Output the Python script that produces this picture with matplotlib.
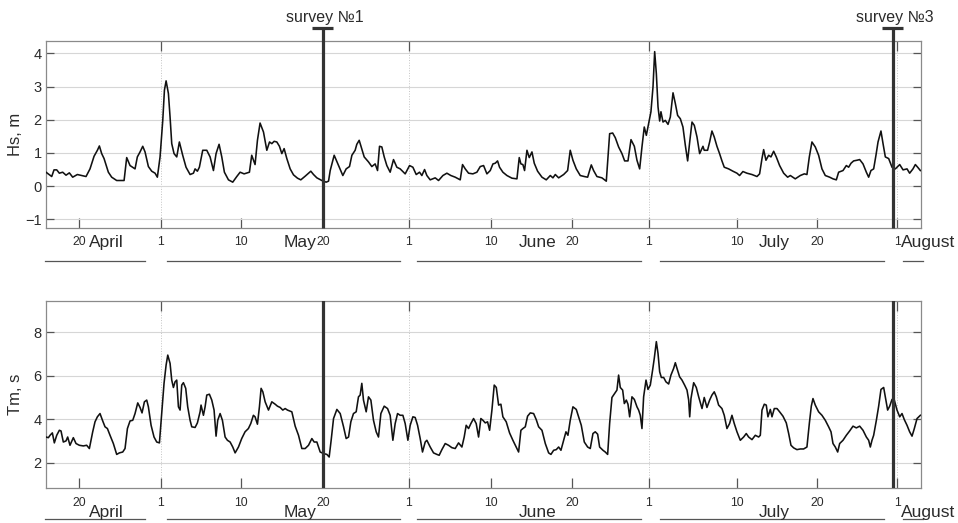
import matplotlib
matplotlib.use("Agg")
import matplotlib.pyplot as plt
import matplotlib.transforms as mtransforms

plt.rcParams['font.family'] = ['Liberation Sans', 'DejaVu Sans']

# ---------------- data (x = day counted from 1 April) -------------
hs_day_a = [15.80,16.52,16.81,17.15,17.48,17.90,18.32,18.74,19.16,19.75,20.29,20.84,21.34,21.85,22.27,22.52,22.81,23.11,23.32,23.65,24.07,24.70,25.63,25.96,26.38,27.01,27.30,27.64,27.98,28.27,28.69,29.11,29.53,29.82,30.16,30.50,30.71,30.92,31.21,31.42,31.63,31.92,32.26,32.59,33.01,33.43,33.94,34.36,34.57,34.86,35.11,35.53,36.04,36.46,36.88,37.21,37.59,37.93,38.26,38.77,39.31,39.82,40.24,40.74,41.41,41.70,42.12,42.42,42.75]
hs_val_a = [0.42,0.29,0.49,0.49,0.39,0.42,0.33,0.40,0.27,0.35,0.32,0.29,0.52,0.90,1.08,1.21,0.98,0.83,0.67,0.42,0.27,0.17,0.17,0.86,0.62,0.52,0.88,1.03,1.20,1.03,0.59,0.45,0.39,0.27,0.88,1.98,2.89,3.17,2.79,2.08,1.28,0.98,0.88,1.33,0.93,0.57,0.35,0.39,0.52,0.45,0.57,1.08,1.08,0.88,0.47,0.98,1.26,0.88,0.42,0.19,0.12,0.29,0.42,0.37,0.42,0.93,0.65,1.38,1.90]
hs_day_b = [43.18,43.60,43.94,44.23,44.52,44.86,45.19,45.49,45.78,46.12,46.54,46.96,47.46,47.88,48.43,48.85,49.14,49.48,49.90,50.53,51.07,51.37,51.58,52.08,52.63,53.17,53.59,54.01,54.31,54.72,54.93,55.23,55.48,55.86,56.40,56.82,57.24,57.54,57.79,58.08,58.38,58.71,59.13,59.55,59.97,60.39,61.02,61.57,61.99,62.41,62.83,63.12,63.46,63.75,64.17,64.80,65.22,65.77,66.27,66.77,67.32,67.95,68.24,68.58,69.00,69.54,70.05,70.47]
hs_val_b = [1.63,1.08,1.33,1.28,1.35,1.33,1.20,0.98,1.13,0.83,0.52,0.34,0.24,0.19,0.30,0.39,0.45,0.35,0.25,0.17,0.12,0.15,0.47,0.93,0.62,0.32,0.52,0.59,0.93,1.08,1.26,1.38,1.18,0.88,0.73,0.59,0.67,0.47,1.20,1.18,0.88,0.62,0.42,0.80,0.57,0.52,0.37,0.62,0.57,0.35,0.42,0.32,0.50,0.32,0.19,0.25,0.17,0.32,0.39,0.32,0.27,0.19,0.65,0.52,0.39,0.37,0.42,0.59]
hs_day_c = [70.89,71.31,71.73,72.07,72.36,72.65,72.90,73.32,73.83,74.46,75.09,75.38,75.59,75.84,76.05,76.35,76.64,76.98,77.27,77.69,78.24,78.78,79.29,79.62,79.92,80.34,80.97,81.47,81.80,82.14,82.56,83.06,83.57,83.99,84.45,84.74,85.16,85.79,86.34,86.76,87.14,87.47,87.89,88.31,88.65,89.07,89.45,89.87,90.20,90.54,90.83,91.12,91.38,91.67,91.96,92.22,92.43,92.64,92.85,93.06,93.22,93.48,93.77,94.11,94.40,94.74,95.03,95.32,95.66,95.99,96.29,96.58,96.84,97.13,97.42,97.76,98.09]
hs_val_c = [0.62,0.37,0.47,0.67,0.69,0.76,0.57,0.42,0.32,0.24,0.22,0.86,0.67,0.65,0.47,1.08,0.86,1.03,0.69,0.45,0.27,0.19,0.32,0.25,0.35,0.25,0.35,0.47,1.08,0.78,0.52,0.32,0.29,0.27,0.64,0.47,0.29,0.25,0.15,1.58,1.60,1.46,1.18,0.98,0.76,0.76,1.40,1.20,0.78,0.52,1.18,1.78,1.53,1.88,2.24,2.99,4.05,3.39,2.39,1.96,2.24,1.93,1.98,1.86,2.08,2.81,2.49,2.13,2.03,1.78,1.23,0.76,1.33,1.93,1.83,1.48,0.98]
hs_day_d = [98.51,98.67,99.09,99.35,99.64,99.93,100.27,100.60,100.90,101.19,101.74,102.28,102.79,103.12,103.54,104.05,104.68,105.31,105.64,105.94,106.15,106.44,106.78,107.07,107.41,107.74,108.16,108.67,109.17,109.51,110.13,110.76,111.27,111.60,111.90,112.23,112.65,113.07,113.49,113.91,114.46,114.88,115.30,115.59,116.14,116.56,116.85,117.15,117.48,117.90,118.24,118.66,119.08,119.37,119.66,120.00,120.29,120.55,120.92,121.18,121.47,121.89,122.31,122.73,123.28,123.70,124.20,124.53,124.95,125.25,125.54,125.88]
hs_val_d = [1.20,1.08,1.08,1.33,1.66,1.48,1.20,0.98,0.76,0.57,0.52,0.45,0.39,0.32,0.44,0.39,0.35,0.29,0.37,0.83,1.10,0.78,0.93,0.88,1.05,0.88,0.62,0.39,0.27,0.32,0.22,0.32,0.37,0.35,0.88,1.33,1.18,0.93,0.52,0.32,0.27,0.22,0.19,0.42,0.47,0.62,0.57,0.69,0.76,0.78,0.80,0.67,0.42,0.27,0.47,0.52,0.93,1.33,1.66,1.28,0.88,0.83,0.57,0.52,0.65,0.49,0.52,0.39,0.52,0.65,0.57,0.47]

tm_day_a = [15.80,16.10,16.31,16.60,16.85,17.15,17.48,17.69,17.98,18.32,18.53,18.82,19.24,19.58,20.00,20.50,20.92,21.26,21.68,21.97,22.27,22.60,22.94,23.23,23.53,23.86,24.28,24.70,25.04,25.46,25.75,26.05,26.38,26.72,27.01,27.35,27.64,27.89,28.19,28.48,28.69,29.03,29.40,29.74,30.08,30.37,30.66,30.92,31.13,31.42,31.63,31.84,32.05,32.26,32.47,32.68,32.89,33.10,33.39,33.64,33.94,34.15,34.57,34.86,35.20,35.32,35.62,35.83,36.04,36.37,36.67,36.96,37.21,37.42,37.72,38.01,38.35,38.64,38.98,39.31,39.61,40.03,40.44,40.86,41.28,41.58,41.91,42.12,42.42]
tm_val_a = [3.18,3.15,3.26,3.37,2.91,3.26,3.49,3.46,2.95,3.00,3.18,2.80,3.15,2.88,2.80,2.77,2.80,2.65,3.42,3.88,4.11,4.26,3.92,3.65,3.57,3.26,2.88,2.38,2.45,2.49,2.65,3.57,3.92,3.95,4.26,4.75,4.54,4.29,4.80,4.88,4.57,3.72,3.18,2.95,2.91,4.26,5.65,6.49,6.95,6.57,5.80,5.46,5.72,5.80,4.57,4.42,5.57,5.68,5.42,4.57,3.95,3.65,3.62,3.83,4.34,4.65,4.18,4.57,5.11,5.15,4.88,4.42,3.22,3.95,4.26,3.95,3.18,3.03,2.95,2.72,2.45,2.72,3.11,3.42,3.57,3.80,4.18,4.11,3.77]
tm_day_b = [42.67,42.88,43.10,43.39,43.81,44.23,44.65,44.94,45.28,45.61,45.91,46.20,46.75,47.17,47.59,48.01,48.43,48.85,49.27,49.56,49.90,50.32,50.74,51.16,51.45,51.70,52.00,52.42,52.84,53.26,53.59,53.89,54.18,54.51,54.85,55.14,55.35,55.56,55.77,56.11,56.40,56.70,57.03,57.37,57.66,57.96,58.38,58.80,59.13,59.47,59.76,60.06,60.39,60.73,61.02,61.36,61.65,61.99,62.28,62.58,62.91,63.20,63.54,63.75,64.17,64.59,65.01,65.30,65.64,66.06,66.48,66.90,67.32,67.74,68.16,68.45,68.70,69.00,69.29,69.63,69.96,70.26,70.55]
tm_val_b = [4.57,5.42,5.26,4.80,4.42,4.80,4.69,4.60,4.54,4.42,4.49,4.42,4.34,3.68,3.26,2.65,2.65,2.80,3.11,2.95,2.95,2.49,2.42,2.38,2.26,3.03,4.03,4.45,4.26,3.65,3.11,3.18,3.88,4.26,4.34,5.03,5.11,5.65,4.88,4.34,5.03,4.88,3.95,3.42,3.18,4.26,4.60,4.49,4.18,3.03,3.80,4.26,4.18,4.18,3.80,3.03,3.72,4.11,4.08,3.72,3.11,2.49,2.95,3.03,2.72,2.45,2.38,2.34,2.60,2.88,2.80,2.69,2.65,2.91,2.72,3.18,3.72,3.57,3.80,4.03,3.80,3.18,4.03]
tm_day_c = [70.81,71.10,71.39,71.65,71.94,72.23,72.49,72.78,73.07,73.32,73.74,74.16,74.58,75.00,75.30,75.59,75.84,76.14,76.43,76.77,77.19,77.52,77.82,78.24,78.66,79.08,79.37,79.71,80.04,80.34,80.63,80.97,81.26,81.51,81.80,82.14,82.56,82.85,83.19,83.57,83.99,84.32,84.66,84.95,85.25,85.50,85.92,86.21,86.51,86.76,87.05,87.39,87.68,87.89,88.10,88.40,88.61,88.86,89.07,89.28,89.57,89.87,90.20,90.41,90.62,90.83,91.04,91.34,91.59,91.88,92.17,92.38,92.64,92.85,93.06,93.27,93.56,93.85,94.19,94.48,94.82,95.03,95.24,95.57,95.87,96.20,96.50,96.71,96.84,97.00,97.34,97.67,97.97,98.39]
tm_val_c = [3.95,3.83,3.88,3.49,4.42,5.57,5.46,4.65,4.69,4.11,3.88,3.37,3.03,2.72,2.49,3.49,3.57,3.65,4.14,4.29,4.26,3.98,3.65,3.49,2.88,2.45,2.38,2.57,2.60,2.72,2.57,3.03,3.42,3.26,3.95,4.57,4.45,4.11,3.72,2.95,2.72,2.65,3.34,3.42,3.31,2.72,2.57,2.49,2.38,3.80,5.00,5.18,5.34,6.03,5.46,5.34,4.72,4.88,4.69,4.11,5.03,4.91,4.57,4.42,4.18,3.57,5.03,5.80,5.37,5.57,6.26,6.80,7.57,7.03,6.18,5.92,5.92,5.72,5.62,6.03,6.34,6.60,6.34,5.95,5.80,5.57,5.34,4.88,4.11,4.95,5.68,5.46,5.03,4.49]
tm_day_d = [98.67,99.01,99.35,99.64,99.93,100.19,100.48,100.90,101.19,101.53,101.86,102.16,102.45,102.79,103.21,103.63,103.96,104.26,104.68,105.10,105.52,105.73,105.94,106.23,106.48,106.69,106.99,107.20,107.49,107.83,108.16,108.58,109.00,109.30,109.59,109.93,110.34,110.76,111.18,111.60,111.90,112.15,112.36,112.65,113.07,113.49,113.91,114.33,114.63,114.88,115.17,115.47,115.72,116.14,116.56,116.98,117.40,117.82,118.24,118.66,119.08,119.37,119.58,119.79,120.00,120.34,120.63,120.92,121.26,121.47,121.76,122.02,122.31,122.60,122.94,123.28,123.57,123.86,124.20,124.53,124.83,125.12,125.46,125.88]
tm_val_d = [5.00,4.54,4.88,5.11,5.26,5.03,4.65,4.49,4.18,3.57,3.80,4.18,3.80,3.42,3.03,3.18,3.34,3.18,3.06,3.26,3.18,3.26,4.42,4.69,4.65,4.11,4.45,4.11,4.49,4.49,4.34,4.14,3.83,3.34,2.80,2.68,2.60,2.63,2.63,2.72,3.80,4.60,4.95,4.65,4.34,4.18,3.95,3.65,3.42,2.88,2.72,2.49,2.88,3.03,3.26,3.46,3.68,3.60,3.68,3.49,3.18,3.03,2.72,3.03,3.26,3.95,4.60,5.37,5.46,5.03,4.42,4.60,4.91,4.88,4.42,4.11,4.26,3.98,3.72,3.42,3.22,3.57,4.03,4.18]

hs_day = hs_day_a + hs_day_b + hs_day_c + hs_day_d
hs_val = hs_val_a + hs_val_b + hs_val_c + hs_val_d
tm_day = tm_day_a + tm_day_b + tm_day_c + tm_day_d
tm_val = tm_val_a + tm_val_b + tm_val_c + tm_val_d

tick_pos = [20.0, 30.25, 40.4, 50.65, 61.5, 71.8, 82.0, 91.7, 102.8, 112.9, 123.0]
tick_labels = ['20', '1', '10', '20', '1', '10', '20', '1', '10', '20', '1']
month_start_pos = [30.25, 61.5, 91.7, 123.0]

months = ['April', 'May', 'June', 'July', 'August']
month_label_x = [23.45, 47.8, 77.65, 107.5, 123.5]
month_bar_start = [15.68, 31.05, 62.52, 93.12, 123.73]
month_bar_end = [28.28, 60.39, 90.73, 121.33, 126.25]

survey_names = ['survey №1', 'survey №3']
survey_pos = [50.65, 122.4]

x_range = (15.8, 125.96)
hs_range = (-1.26, 4.37)
tm_range = (0.82, 9.44)
hs_ticks = [-1, 0, 1, 2, 3, 4]
tm_ticks = [2, 4, 6, 8]

# ---------------- figure ----------------
W, H = 958, 523
fig = plt.figure(figsize=(W / 100, H / 100), dpi=100)
ax1 = fig.add_axes([46 / W, 1 - 228 / H, 875 / W, 187 / H])
ax2 = fig.add_axes([46 / W, 1 - 488.3 / H, 875 / W, 187.3 / H])

txt = '#2b2b2b'
for ax, d, v, yr, yt, lab in [(ax1, hs_day, hs_val, hs_range, hs_ticks, 'Hs, m'),
                              (ax2, tm_day, tm_val, tm_range, tm_ticks, 'Tm, s')]:
    ax.plot(d, v, color='#111111', lw=1.15, zorder=3)
    ax.set_xlim(*x_range)
    ax.set_ylim(*yr)
    ax.set_yticks(yt)
    ax.set_xticks(tick_pos, tick_labels)
    ax.xaxis.remove_overlapping_locs = False
    ax.set_xticks(month_start_pos, minor=True)
    ax.tick_params(axis='x', which='major', direction='in', length=7, width=0.9,
                   labelsize=8.8, pad=6, colors='#555555', labelcolor=txt)
    ax.tick_params(axis='x', which='minor', direction='in', length=7, width=0.9,
                   bottom=False, top=True, colors='#555555')
    ax.tick_params(axis='y', direction='in', length=6, width=0.9, left=True, right=True,
                   labelsize=10.5, pad=3, colors='#555555', labelcolor=txt)
    ax.grid(axis='y', color='#d6d6d6', lw=0.8, zorder=0)
    for m in month_start_pos:
        ax.axvline(m, color='#c4c4c4', lw=0.7, ls=':', zorder=0)
    for s in ax.spines.values():
        s.set_color('#8a8a8a')
        s.set_linewidth(0.9)
    ax.set_ylabel(lab, fontsize=12, color=txt)
    ax.yaxis.set_label_coords(-0.026, 0.5)

# month names and underlines
for ax, ty, uy in [(ax1, -0.1016, -0.176), (ax2, -0.153, -0.166)]:
    tr = mtransforms.blended_transform_factory(ax.transData, ax.transAxes)
    for i, name in enumerate(months):
        ha = 'left' if name == 'August' else 'center'
        ax.text(month_label_x[i], ty, name, transform=tr, ha=ha, va='baseline',
                fontsize=12.5, color=txt, clip_on=False)
        ax.plot([month_bar_start[i], month_bar_end[i]], [uy, uy], transform=tr,
                color='#555555', lw=0.9, clip_on=False)

# survey lines
tr1 = mtransforms.blended_transform_factory(ax1.transData, ax1.transAxes)
cap_half = 1.3
for name, s in zip(survey_names, survey_pos):
    ax1.plot([s, s], [0, 1.0695], transform=tr1, color='#333333', lw=2.3,
             clip_on=False, zorder=4, solid_capstyle='butt')
    ax1.plot([s - cap_half, s + cap_half], [1.0695, 1.0695], transform=tr1,
             color='#333333', lw=2.3, clip_on=False, zorder=4, solid_capstyle='butt')
    ax1.text(s + 0.3, 1.125, name, transform=tr1, ha='center', va='center',
             fontsize=11.5, color=txt, clip_on=False)
    ax2.axvline(s, color='#333333', lw=2.3, zorder=4)

fig.savefig('out.png', dpi=100)
